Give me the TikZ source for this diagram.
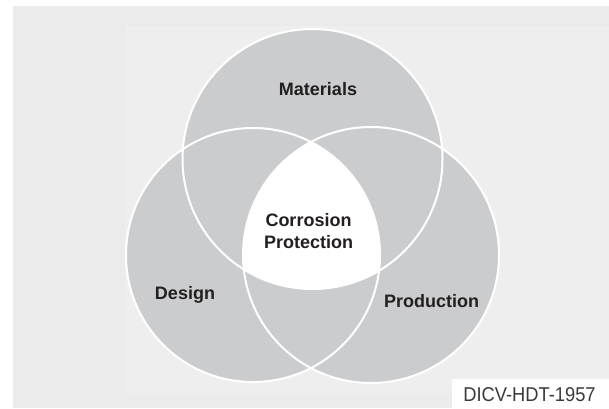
\documentclass[tikz,border=0pt]{standalone}
\usepackage{fontspec}
\setmainfont{Liberation Sans}
\definecolor{bgouter}{HTML}{EBEBEC}
\definecolor{bginner}{HTML}{EEEEEF}
\definecolor{circfill}{HTML}{CBCCCE}
\definecolor{txt}{HTML}{231F20}
\definecolor{idtxt}{HTML}{3A3A3A}
\tikzset{
  setlabel/.style={font=\fontsize{18}{21.5}\selectfont\bfseries, text=txt, align=center, inner sep=0pt},
  circout/.style={draw=white, line width=2pt},
}
\begin{document}
\begin{tikzpicture}[x=1pt,y=-1pt]
\useasboundingbox (0,0) rectangle (609,408);
\fill[white] (0,0) rectangle (609,408);
\fill[bgouter] (13,6) rectangle (609,408);
\fill[bginner] (125,26) rectangle (609,393);
% circles
\coordinate (cm) at (312.5,159);
\coordinate (cd) at (253,255);
\coordinate (cp) at (371,255);
\fill[circfill] (cm) circle[radius=130];
\fill[circfill] (cd) circle[radius=127];
\fill[circfill] (cp) circle[radius=128];
\begin{scope}
  \clip (cm) circle[radius=130];
  \clip (cd) circle[radius=127];
  \fill[white] (cp) circle[radius=128];
\end{scope}
\draw[circout] (cm) circle[radius=130];
\draw[circout] (cd) circle[radius=127];
\draw[circout] (cp) circle[radius=128];
% labels
\node[setlabel] (mat) at (318,89) {Materials};
\node[setlabel] (cor) at (308.5,231) {Corrosion\\Protection};
\node[setlabel] (des) at (185,295) {Design};
\node[setlabel] (pro) at (431.5,301.5) {Production};
% id box
\fill[white] (452,379) rectangle (609,408);
\node[inner sep=0pt, text=idtxt, anchor=base, xscale=0.915] (id) at (529.5,401)
  {\fontsize{20}{20}\selectfont DICV-HDT-1957};
\end{tikzpicture}
\end{document}
